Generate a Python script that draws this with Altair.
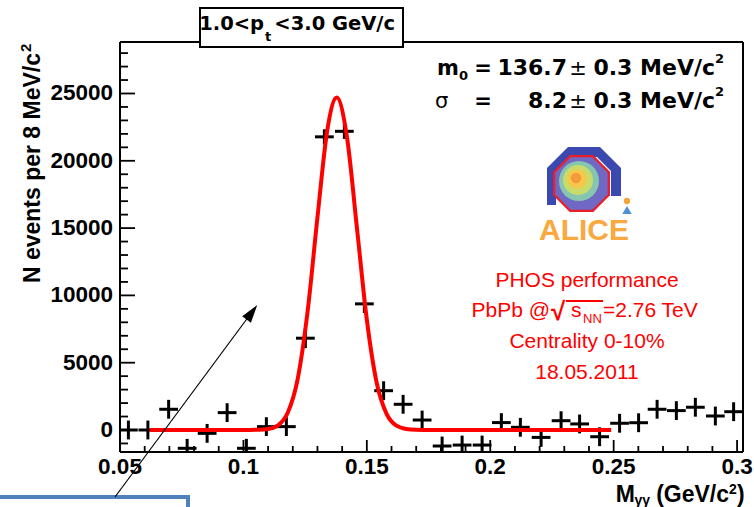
import altair as alt
import pandas as pd

# ---------------- data ----------------
mass = [0.0534, 0.0613, 0.0697, 0.0772, 0.0853, 0.0934, 0.1012, 0.1093, 0.1174, 0.1251,
        0.1328, 0.1409, 0.1490, 0.1568, 0.1647, 0.1724, 0.1805, 0.1886, 0.1967, 0.2045,
        0.2122, 0.2206, 0.2287, 0.2362, 0.2443, 0.2524, 0.2601, 0.2676, 0.2754, 0.2831,
        0.2912, 0.2986]
counts = [0, 0, 1540, -1360, -250, 1290, -1360, 250, 250, 6820,
          21780, 22190, 9370, 2920, 1910, 740, -1190, -1120, -1120, 550,
          200, -550, 690, 450, -500, 500, 540, 1540, 1440, 1690,
          1040, 1360]
errors = [700, 700, 700, 700, 700, 700, 700, 700, 700, 740,
          560, 560, 670, 700, 700, 700, 700, 700, 700, 700,
          700, 700, 700, 700, 700, 700, 700, 700, 700, 700,
          700, 700]
bin_half = 0.0038

fit_mass = [0.062, 0.100, 0.106, 0.110, 0.114, 0.118, 0.122, 0.126, 0.130, 0.134, 0.1378,
            0.142, 0.146, 0.150, 0.154, 0.158, 0.162, 0.166, 0.170, 0.176, 0.249]
fit_counts = [0, 0, 20, 80, 350, 1300, 3800, 8800, 15800, 22300, 24700,
              21700, 15000, 8200, 3500, 1200, 320, 80, 20, 0, 0]

x_major = [0.05, 0.1, 0.15, 0.2, 0.25, 0.3]
x_labels = ["0.05", "0.1", "0.15", "0.2", "0.25", "0.3"]
x_minor = [0.06, 0.07, 0.08, 0.09, 0.11, 0.12, 0.13, 0.14, 0.16, 0.17, 0.18, 0.19,
           0.21, 0.22, 0.23, 0.24, 0.26, 0.27, 0.28, 0.29]
y_major = [0, 5000, 10000, 15000, 20000, 25000]
y_labels = ["0", "5000", "10000", "15000", "20000", "25000"]
y_minor = [-1000, 1000, 2000, 3000, 4000, 6000, 7000, 8000, 9000, 11000, 12000, 13000, 14000,
           16000, 17000, 18000, 19000, 21000, 22000, 23000, 24000, 26000, 27000, 28000]

# ---------------- layout ----------------
W, H = 623, 410
OX, OY = 120, 42
LIB = "Liberation Sans"
DJV = "DejaVu Sans"

xs = alt.Scale(domain=[0.05, 0.3024], nice=False, zero=False)
ys = alt.Scale(domain=[-1635, 28826], nice=False, zero=False)

one = pd.DataFrame({"k": [0]})

pts = pd.DataFrame({"m": mass, "n": counts, "e": errors})
pts["lo"] = pts["n"] - pts["e"]
pts["hi"] = pts["n"] + pts["e"]
pts["ml"] = pts["m"] - bin_half
pts["mh"] = pts["m"] + bin_half
fit = pd.DataFrame({"m": fit_mass, "n": fit_counts})


def label(s, X, Y, size, font=LIB, weight="bold", color="black", align="left",
          baseline="alphabetic", angle=0):
    mk = dict(text=s, font=font, fontSize=size, fontWeight=weight, color=color,
              align=align, baseline=baseline)
    if angle:
        mk["angle"] = angle
    return alt.Chart(one).mark_text(**mk).encode(x=alt.value(X - OX), y=alt.value(Y - OY))


def line(x1, y1, x2, y2, color="black", w=1.0):
    return alt.Chart(one).mark_rule(color=color, strokeWidth=w).encode(
        x=alt.value(x1 - OX), y=alt.value(y1 - OY), x2=alt.value(x2 - OX), y2=alt.value(y2 - OY))


def sym(path, X, Y, size, color, angle=0):
    mk = dict(shape=path, size=size, filled=True, fill=color, color=color, opacity=1, strokeWidth=0)
    if angle:
        mk["angle"] = angle
    return alt.Chart(one).mark_point(**mk).encode(x=alt.value(X - OX), y=alt.value(Y - OY))


def box(x1, y1, x2, y2, stroke, w, fill="white"):
    return alt.Chart(one).mark_rect(fill=fill, stroke=stroke, strokeWidth=w).encode(
        x=alt.value(x1 - OX), x2=alt.value(x2 - OX), y=alt.value(y1 - OY), y2=alt.value(y2 - OY))


# frame
frame = [line(120, 42, 120, 452, w=2), line(743, 42, 743, 452, w=2),
         line(120, 42, 743, 42, w=2), line(120, 452, 743, 452, w=2)]

# inner ticks
xmaj = alt.Chart(pd.DataFrame({"v": x_major})).mark_rule(color="black", strokeWidth=1.8).encode(
    x=alt.X("v:Q", scale=xs, axis=None), y=alt.value(H), y2=alt.value(H - 12))
xmin = alt.Chart(pd.DataFrame({"v": x_minor})).mark_rule(color="black", strokeWidth=1.8).encode(
    x=alt.X("v:Q", scale=xs, axis=None), y=alt.value(H), y2=alt.value(H - 6))
ymaj = alt.Chart(pd.DataFrame({"v": y_major})).mark_rule(color="black", strokeWidth=1.8).encode(
    y=alt.Y("v:Q", scale=ys, axis=None), x=alt.value(0), x2=alt.value(15))
ymin = alt.Chart(pd.DataFrame({"v": y_minor})).mark_rule(color="black", strokeWidth=1.8).encode(
    y=alt.Y("v:Q", scale=ys, axis=None), x=alt.value(0), x2=alt.value(8))

# tick labels
xlab = alt.Chart(pd.DataFrame({"v": x_major, "t": x_labels})).mark_text(
    font=LIB, fontSize=22.5, fontWeight="bold", color="black", align="center",
    baseline="alphabetic").encode(
    x=alt.X("v:Q", scale=xs, axis=None), y=alt.value(474 - OY), text="t:N")
ylab = alt.Chart(pd.DataFrame({"v": y_major, "t": y_labels})).mark_text(
    font=LIB, fontSize=22.5, fontWeight="bold", color="black", align="right",
    baseline="middle").encode(
    y=alt.Y("v:Q", scale=ys, axis=None), x=alt.value(113 - OX), text="t:N")

# data crosses
vbar = alt.Chart(pts).mark_rule(color="black", strokeWidth=3, clip=True).encode(
    x=alt.X("m:Q", scale=xs, axis=None),
    y=alt.Y("lo:Q", scale=ys, axis=None), y2="hi:Q")
hbar = alt.Chart(pts).mark_rule(color="black", strokeWidth=3, clip=True).encode(
    x=alt.X("ml:Q", scale=xs, axis=None), x2="mh:Q",
    y=alt.Y("n:Q", scale=ys, axis=None))

# fit curve
fitline = alt.Chart(fit).mark_line(color="#ff0000", strokeWidth=4, clip=True,
                                   interpolate="monotone").encode(
    x=alt.X("m:Q", scale=xs, axis=None), y=alt.Y("n:Q", scale=ys, axis=None))

# axis titles
ytitle = [label("N events per 8 MeV/c", 40, 53, 23, align="right", angle=270),
          label("2", 31, 52, 15, align="left", angle=270)]
xtitle = [label("M", 635, 502, 23, align="right"),
          label("γγ", 650, 505, 14, align="right"),
          label("(GeV/c", 729, 502, 23, align="right"),
          label("2", 729, 494, 14, align="left"),
          label(")", 737, 502, 23, align="left")]

# stats text (top right)
stats = [label("m", 437, 75, 21, font=DJV),
         label("0", 459, 80, 13, font=DJV),
         label("=", 483, 75, 21, font=DJV, align="center"),
         label("136.7", 567, 75, 22, font=DJV, align="right"),
         label("±", 578, 75, 21, font=DJV, weight="normal", align="center"),
         label("0.3 MeV/c", 715, 75, 22, font=DJV, align="right"),
         label("2", 715, 63, 13, font=DJV),
         label("σ", 435, 108, 21, font=DJV, weight="normal"),
         label("=", 483, 108, 21, font=DJV, align="center"),
         label("8.2", 567, 108, 22, font=DJV, align="right"),
         label("±", 578, 108, 21, font=DJV, weight="normal", align="center"),
         label("0.3 MeV/c", 715, 108, 22, font=DJV, align="right"),
         label("2", 715, 96, 13, font=DJV)]

# red performance text
RED = "#ff0000"
redtxt = [label("PHOS performance", 587, 287, 21, weight="normal", color=RED, align="center"),
          label("PbPb @", 550, 317, 21, weight="normal", color=RED, align="right"),
          label("√", 551, 320, 26, weight="bold", color=RED),
          line(566, 301, 603, 301, color=RED, w=1.8),
          label("s", 571, 317, 21, weight="normal", color=RED),
          label("NN", 583, 323, 13, weight="normal", color=RED),
          label("=2.76 TeV", 603, 317, 21, weight="normal", color=RED),
          label("Centrality 0-10%", 587, 348, 21, weight="normal", color=RED, align="center"),
          label("18.05.2011", 587, 379, 21, weight="normal", color=RED, align="center")]

# ALICE logo (drawn with simple shapes)
OCT = "M-0.414,-1L0.414,-1L1,-0.414L1,0.414L0.414,1L-0.414,1L-1,0.414L-1,-0.414Z"
HOOD = ("M-0.925,0.725L-0.925,-0.2L-0.4,-0.725L0.4,-0.725L0.925,-0.2L0.925,0.5L0.675,0.5"
        "L0.675,-0.125L0.325,-0.475L-0.325,-0.475L-0.7,-0.125L-0.7,0.725Z")
logo = [sym(HOOD, 584, 176, 6400, "#3b48b0"),
        sym(OCT, 581.5, 183.5, 3249, "#e8202a"),
        sym(OCT, 581.5, 183.5, 2750, "#6f68c4"),
        sym("circle", 579, 181, 1600, "#86c6b0"),
        sym("circle", 578, 180, 900, "#c9dc6a"),
        sym("circle", 577, 179, 380, "#f6c84a"),
        sym("circle", 576, 178, 110, "#f39b3a"),
        sym("circle", 627, 201, 40, "#f3a33a"),
        sym("triangle-up", 627, 210, 90, "#4f8fd6"),
        label("ALICE", 584, 240, 30, color="#f9a940", align="center")]

# title box
title = [box(200, 8, 403, 47, "black", 2),
         label("1.0<p", 264, 30, 19.5, font=DJV, align="right"),
         label("t", 265, 41, 13, font=DJV),
         label("<3.0 GeV/c", 395, 30, 19.5, font=DJV, align="right")]

# arrow and blue box at the bottom left
ARROW = "M0,-1L0.6,1L-0.6,1Z"
annot = [box(-10, 497, 188, 520, "#4f81bd", 4),
         line(115, 497, 252, 312, w=1.2),
         sym(ARROW, 251.9, 312.2, 324, "black", angle=36.5)]

layers = (frame + [xmaj, xmin, ymaj, ymin, xlab, ylab, vbar, hbar, fitline] + ytitle + xtitle
          + stats + redtxt + logo + title + annot)

chart = alt.layer(*layers).properties(
    width=W, height=H,
    autosize=alt.AutoSizeParams(type="none"),
    padding={"left": OX, "top": OY, "right": 754 - OX - W, "bottom": 507 - OY - H},
).configure_view(stroke="transparent")

chart.save("out.html", embed_options={"renderer": "svg", "actions": False})
